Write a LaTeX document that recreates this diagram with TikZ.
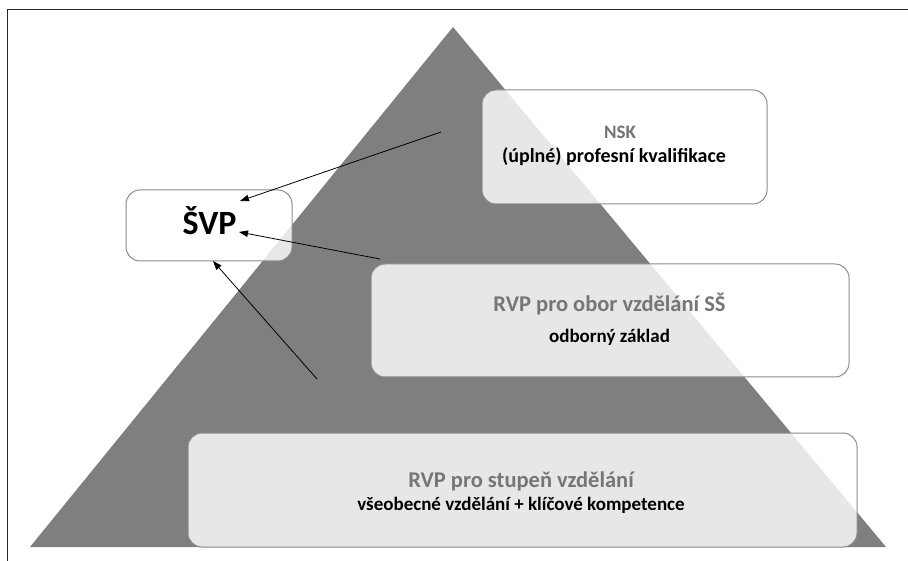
\documentclass[tikz,border=0pt]{standalone}
\usepackage{fontspec}
\setmainfont{Carlito}
\usetikzlibrary{arrows.meta}
\definecolor{tri}{HTML}{7F7F7F}
\definecolor{boxline}{HTML}{8C8C8C}
\definecolor{headgray}{HTML}{767676}
\tikzset{
  every node/.style={font=\bfseries},
  lvlbox/.style={draw=boxline, line width=1pt, fill=white, fill opacity=0.82, draw opacity=1,
    rounded corners=14pt, inner sep=0pt},
  frame/.style={draw=none, fill=none, inner sep=0pt},
  head/.style={text=headgray, anchor=base, inner sep=0pt},
  sub/.style={text=black, anchor=base, inner sep=0pt},
  conn/.style={-{Triangle[length=9pt,width=6.5pt]}, line width=0.8pt, black},
}
\begin{document}
\begin{tikzpicture}[x=1pt,y=-1pt]
\useasboundingbox (0,0) rectangle (908,561);
\draw[line width=1.4pt, black!85] (7.5,561) -- (7.5,9.5) -- (908,9.5);
% pyramid
\fill[tri] (30,547) -- (453,27) -- (886,547) -- cycle;
% boxes
\path[lvlbox] (482,90) rectangle (767,204);
\node[frame, minimum width=285pt, minimum height=114pt] (nsk) at (624.5,147) {};
\path[lvlbox] (371,264) rectangle (849,377);
\node[frame, minimum width=478pt, minimum height=113pt] (obor) at (610,320.5) {};
\path[lvlbox] (188,433) rectangle (857,547);
\node[frame, minimum width=669pt, minimum height=114pt] (stup) at (522.5,490) {};
\path[lvlbox] (126,190) rectangle (292,261);
\node[frame, minimum width=166pt, minimum height=71pt] (svp) at (209,225.5) {};
% texts
\node[head, font=\bfseries\fontsize{19}{21}\selectfont] (t1) at (620,139) {NSK};
\node[sub, font=\bfseries\fontsize{20}{22}\selectfont] (t2) at (614,163) {(úplné) profesní kvalifikace};
\node[head, font=\bfseries\fontsize{22.5}{25}\selectfont] (t3) at (609.5,312) {RVP pro obor vzdělání SŠ};
\node[sub, font=\bfseries\fontsize{19}{21}\selectfont] (t4) at (609.5,343) {odborný základ};
\node[head, font=\bfseries\fontsize{22.5}{25}\selectfont] (t5) at (521,487) {RVP pro stupeň vzdělání};
\node[sub, font=\bfseries\fontsize{19}{21}\selectfont] (t6) at (521,510) {všeobecné vzdělání + klíčové kompetence};
\node[sub, font=\bfseries\fontsize{34}{36}\selectfont] (svptext) at (209.5,235) {ŠVP};
% connectors
\coordinate (a1) at (441,132);
\coordinate (a2) at (380,259);
\coordinate (a3) at (317,379);
\coordinate (e1) at (240,201);
\coordinate (e2) at (239,232);
\coordinate (e3) at (213,261);
\draw[conn] (a1) -- (e1);
\draw[conn] (a2) -- (e2);
\draw[conn] (a3) -- (e3);
\end{tikzpicture}
\end{document}
